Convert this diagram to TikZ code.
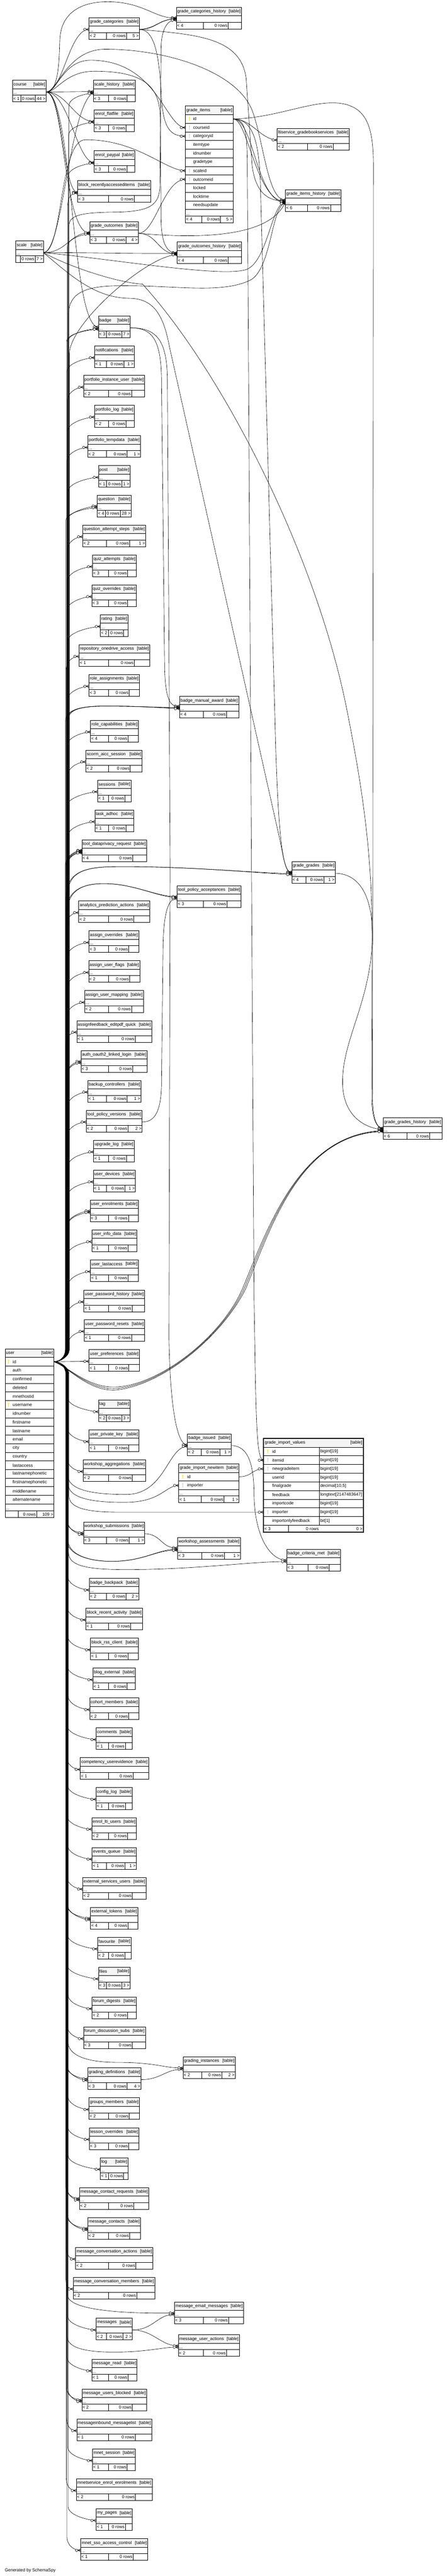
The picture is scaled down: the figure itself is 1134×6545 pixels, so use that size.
\documentclass[tikz,border=0pt]{standalone}
\usepackage{fontspec}
\setmainfont{Liberation Sans}
\usetikzlibrary{calc}

\definecolor{hdrgray}{RGB}{244,244,244}
\definecolor{pkyellow}{RGB}{255,230,0}
\definecolor{fkgray}{RGB}{205,205,205}

\pgfdeclarelayer{links}
\pgfsetlayers{links,main}

\tikzset{
  tabline/.style={line width=0.75pt},
  hdr/.style={fill=hdrgray},
  txt/.style={inner sep=0pt, font=\fontsize{8.25}{10}\selectfont},
  cell/.style={inner sep=0pt, outer sep=0pt},
  fk/.style={line width=0.6pt},
  fkend/.pic={\draw[fk, fill=white] (-10.5,0) circle[radius=3.1];
              \draw[fk] (-7,0) -- (0,-3.6) (-7,0) -- (0,3.6) (-7.4,0) -- (0,0);},
  pkey/.pic={\fill[pkyellow] (0,-3.5) circle[radius=1.8]; \draw[pkyellow, line width=0.9pt] (0,-2) -- (0,5);},
  fkey/.pic={\fill[fkgray] (0,-3.5) circle[radius=1.8]; \draw[fkgray, line width=0.9pt] (0,-2) -- (0,5);},
}

\newcommand{\ctab}[9]{%
  \pgfmathsetmacro{\tw}{(#4-#2)*0.75}%
  \fill[white] (#2,#3) rectangle (#4,#3+55);
  \fill[hdr] (#2,#3) rectangle (#4,#3+21.5);
  \draw[tabline] (#2,#3) rectangle (#4,#3+55)
    (#2,#3+21.5) -- (#4,#3+21.5) (#2,#3+38) -- (#4,#3+38)
    (#6,#3+38) -- (#6,#3+55) (#7,#3+38) -- (#7,#3+55);
  \node[cell, minimum width=\tw pt, minimum height=12pt] (#1) at ({(#2+#4)/2},#3+29.75) {};
  \node[txt, anchor=west] (#1-name) at (#2+2,#3+11) {#5};
  \node[txt, anchor=east] (#1-kind) at (#4-2,#3+11) {[table]};
  \node[txt, anchor=base west] (#1-dots) at (#2+1.5,#3+35.5) {...};
  \node[txt, anchor=west] (#1-par) at (#2+1.5,#3+46.5) {#8};
  \node[txt, anchor=east] (#1-rows) at (#7-1.5,#3+46.5) {0 rows};
  \node[txt, anchor=east] (#1-chl) at (#4-1.5,#3+46.5) {#9};
}

\begin{document}
\begin{tikzpicture}[x=0.75pt, y=-0.75pt]
\useasboundingbox (0,0) rectangle (1134,6545);

\ctab{gch}{448}{18.5}{613}{grade\_categories\_history}{516}{579}{< 4}{}
\ctab{gcat}{226}{45}{354}{grade\_categories}{270}{321}{< 2}{5 >}
\ctab{course}{32}{204}{117}{course}{53}{90}{< 1}{44 >}
\ctab{schist}{237}{204}{344}{scale\_history}{276}{323}{< 3}{}
\ctab{eflat}{239}{279}{341}{enrol\_flatfile}{275}{320}{< 3}{}
\ctab{lti}{704}{326}{887}{ltiservice\_gradebookservices}{781}{846}{< 2}{}
\ctab{epay}{239}{383}{342}{enrol\_paypal}{276}{322}{< 3}{}
\ctab{brai}{197}{459}{383}{block\_recentlyaccesseditems}{275}{341}{< 3}{}
\ctab{gih}{725}{482}{866}{grade\_items\_history}{781}{839}{< 6}{}
\ctab{gout}{228}{563}{351}{grade\_outcomes}{270}{320}{< 3}{4 >}
\ctab{scale}{40}{612}{110}{scale}{51}{89}{}{7 >}
\ctab{goh}{450}{615}{613}{grade\_outcomes\_history}{516}{579}{< 4}{}
\ctab{badge}{250}{803}{330}{badge}{270}{309}{< 3}{7 >}
\ctab{notif}{240}{879}{341}{notifications}{270}{315}{< 1}{1 >}
\ctab{piu}{212}{954}{367}{portfolio\_instance\_user}{275}{334}{< 2}{}
\ctab{plog}{240}{1030}{341}{portfolio\_log}{275}{320}{< 2}{}
\ctab{ptemp}{223}{1107}{357}{portfolio\_tempdata}{270}{323}{< 2}{1 >}
\ctab{post}{250}{1183}{330}{post}{270}{309}{< 1}{1 >}
\ctab{quest}{247}{1258}{333}{question}{268}{305}{< 4}{28 >}
\ctab{qas}{210}{1334}{370}{question\_attempt\_steps}{270}{329}{< 2}{1 >}
\ctab{qatt}{235}{1410}{346}{quiz\_attempts}{276}{324}{< 3}{}
\ctab{qovr}{233}{1486}{346}{quiz\_overrides}{275}{324}{< 3}{}
\ctab{rating}{255}{1562}{325}{rating}{276}{314}{< 2}{}
\ctab{roda}{201}{1638}{380}{repository\_onedrive\_access}{276}{341}{< 1}{}
\ctab{rass}{226}{1714}{354}{role\_assignments}{276}{328}{< 3}{}
\ctab{bma}{456}{1769}{606}{badge\_manual\_award}{516}{575}{< 4}{}
\ctab{rcap}{230}{1830}{351}{role\_capabilities}{276}{325}{< 4}{}
\ctab{scorm}{218}{1906}{361}{scorm\_aicc\_session}{275}{331}{< 2}{}
\ctab{sess}{248}{1982}{333}{sessions}{276}{317}{< 1}{}
\ctab{tadhoc}{241}{2058}{340}{task\_adhoc}{276}{320}{< 1}{}
\ctab{tdpr}{208}{2134}{372}{tool\_dataprivacy\_request}{276}{337}{< 4}{}
\ctab{gg}{741}{2189}{851}{grade\_grades}{777}{822}{< 4}{1 >}
\ctab{tpa}{450}{2250}{612}{tool\_policy\_acceptances}{516}{576}{< 3}{}
\ctab{apa}{200}{2289}{380}{analytics\_prediction\_actions}{275}{340}{< 2}{}
\ctab{aovr}{226}{2365}{352}{assign\_overrides}{275}{327}{< 3}{}
\ctab{auf}{225}{2441}{355}{assign\_user\_flags}{276}{329}{< 2}{}
\ctab{aum}{215}{2517}{364}{assign\_user\_mapping}{275}{334}{< 2}{}
\ctab{aepq}{195}{2593}{385}{assignfeedback\_editpdf\_quick}{275}{343}{< 1}{}
\ctab{aoll}{206}{2669}{374}{auth\_oauth2\_linked\_login}{275}{337}{< 3}{}
\ctab{bctl}{223}{2745}{358}{backup\_controllers}{270}{323}{< 1}{1 >}
\ctab{tpv}{219}{2821}{361}{tool\_policy\_versions}{270}{325}{< 2}{2 >}
\ctab{ggh}{973}{2840}{1122}{grade\_grades\_history}{1033}{1091}{< 6}{}
\ctab{uplog}{238}{2897}{341}{upgrade\_log}{275}{321}{< 1}{}
\ctab{udev}{237}{2973}{344}{user\_devices}{270}{317}{< 1}{1 >}
\ctab{uenr}{229}{3049}{351}{user\_enrolments}{275}{326}{< 3}{}
\ctab{uinfo}{233}{3125}{348}{user\_info\_data}{276}{325}{< 1}{}
\ctab{ulast}{230}{3201}{351}{user\_lastaccess}{276}{325}{< 1}{}
\ctab{uph}{213}{3278}{367}{user\_password\_history}{275}{335}{< 1}{}
\ctab{upr}{214}{3353}{367}{user\_password\_resets}{276}{334}{< 1}{}
\ctab{upref}{226}{3429}{354}{user\_preferences}{276}{327}{< 1}{}
\ctab{tag}{250}{3557}{330}{tag}{270}{309}{< 2}{3 >}
\ctab{upk}{226}{3633}{353}{user\_private\_key}{276}{327}{< 1}{}
\ctab{bi}{476}{3643}{587}{badge\_issued}{511}{558}{< 2}{1 >}
\ctab{waggr}{211}{3709}{370}{workshop\_aggregations}{276}{336}{< 2}{}
\ctab{wsub}{212}{3867}{367}{workshop\_submissions}{270}{328}{< 3}{1 >}
\ctab{wass}{451}{3906}{610}{workshop\_assessments}{512}{570}{< 3}{1 >}
\ctab{bcm}{728}{3936}{864}{badge\_criteria\_met}{782}{836}{< 3}{}
\ctab{bbp}{227}{4010}{352}{badge\_backpack}{270}{320}{< 2}{2 >}
\ctab{bra}{218}{4086}{362}{block\_recent\_activity}{276}{332}{< 1}{}
\ctab{brss}{230}{4162}{351}{block\_rss\_client}{276}{325}{< 1}{}
\ctab{blog}{236}{4238}{344}{blog\_external}{276}{323}{< 1}{}
\ctab{cohm}{228}{4314}{352}{cohort\_members}{276}{327}{< 2}{}
\ctab{comm}{244}{4390}{336}{comments}{276}{318}{< 1}{}
\ctab{cue}{204}{4466}{377}{competency\_userevidence}{276}{338}{< 1}{}
\ctab{clog}{244}{4542}{336}{config\_log}{276}{318}{< 1}{}
\ctab{elti}{233}{4618}{346}{enrol\_lti\_users}{275}{324}{< 2}{}
\ctab{evq}{234}{4694}{346}{events\_queue}{270}{317}{< 1}{1 >}
\ctab{esu}{210}{4770}{371}{external\_services\_users}{276}{336}{< 2}{}
\ctab{etok}{230}{4846}{350}{external\_tokens}{275}{325}{< 4}{}
\ctab{fav}{248}{4922}{333}{favourite}{276}{317}{< 2}{}
\ctab{files}{250}{4998}{330}{files}{270}{309}{< 3}{3 >}
\ctab{fdig}{234}{5074}{346}{forum\_digests}{275}{324}{< 2}{}
\ctab{fds}{212}{5150}{369}{forum\_discussion\_subs}{276}{336}{< 3}{}
\ctab{ginst}{465}{5226}{597}{grading\_instances}{512}{563}{< 2}{2 >}
\ctab{gdef}{223}{5254}{358}{grading\_definitions}{270}{323}{< 3}{4 >}
\ctab{gmem}{226}{5330}{354}{groups\_members}{275}{328}{< 2}{}
\ctab{lovr}{227}{5406}{353}{lesson\_overrides}{275}{327}{< 3}{}
\ctab{log}{255}{5482}{325}{log}{276}{314}{< 1}{}
\ctab{mcr}{202}{5558}{378}{message\_contact\_requests}{276}{340}{< 2}{}
\ctab{mcon}{223}{5634}{357}{message\_contacts}{275}{329}{< 2}{}
\ctab{mca}{192}{5710}{388}{message\_conversation\_actions}{276}{345}{< 2}{}
\ctab{mcm}{186}{5786}{393}{message\_conversation\_members}{275}{347}{< 2}{}
\ctab{mem}{443}{5849}{618}{message\_email\_messages}{516}{580}{< 3}{}
\ctab{msgs}{244}{5890}{336}{messages}{270}{312}{< 2}{2 >}
\ctab{mua}{453}{5932}{608}{message\_user\_actions}{516}{575}{< 2}{}
\ctab{mread}{233}{5994}{348}{message\_read}{276}{325}{< 1}{}
\ctab{mub}{208}{6070}{372}{message\_users\_blocked}{275}{336}{< 2}{}
\ctab{mibl}{195}{6146}{385}{messageinbound\_messagelist}{275}{343}{< 1}{}
\ctab{mnets}{235}{6222}{344}{mnet\_session}{275}{323}{< 1}{}
\ctab{mnee}{194}{6298}{386}{mnetservice\_enrol\_enrolments}{276}{344}{< 2}{}
\ctab{mypg}{244}{6374}{336}{my\_pages}{276}{318}{< 1}{}
\ctab{msso}{205}{6450}{375}{mnet\_sso\_access\_control}{275}{338}{< 1}{}

\fill[white] (471,269) rectangle (592,566);
\fill[hdr] (471,269) rectangle (592,291.4);
\draw[tabline] (471,269) rectangle (592,566) (471,291.4) -- (592,291.4) (471,549) -- (592,549) (512,549) -- (512,566) (560,549) -- (560,566);
\node[txt, anchor=west] (gi-name) at (473,280.2) {grade\_items};
\node[txt, anchor=east] (gi-kind) at (590,280.2) {[table]};
\foreach \n [count=\i from 0] in {id,courseid,categoryid,itemtype,idnumber,gradetype,scaleid,outcomeid,locked,locktime,needsupdate} {
  \node[cell, minimum width=90.75pt, minimum height=16.4pt] (gi-\n) at (531.5,302.35+21.9*\i) {};
  \node[txt, anchor=west] (gi-\n-t) at (490,302.35+21.9*\i) {\n};
  \draw[tabline] (471,313.3+21.9*\i) -- (592,313.3+21.9*\i);
}
\node[txt, anchor=base west] (gi-dots) at (472.5,546) {...};
\node[txt, anchor=west] (gi-par) at (472.5,557.5) {< 4};
\node[txt, anchor=east] (gi-rows) at (558.5,557.5) {0 rows};
\node[txt, anchor=east] (gi-chl) at (590.5,557.5) {5 >};
\pic at (481,302.35) {pkey};
\foreach \i in {1,2,6,7} \pic at (481,302.35+21.9*\i) {fkey};

\fill[white] (13,3427) rectangle (137,3856);
\fill[hdr] (13,3427) rectangle (137,3449);
\draw[tabline] (13,3427) rectangle (137,3856) (13,3449) -- (137,3449) (13,3839) -- (137,3839) (46,3839) -- (46,3856) (93,3839) -- (93,3856);
\node[txt, anchor=west] (usr-name) at (15,3438) {user};
\node[txt, anchor=east] (usr-kind) at (135,3438) {[table]};
\foreach \n [count=\i from 0] in {id,auth,confirmed,deleted,mnethostid,username,idnumber,firstname,lastname,email,city,country,lastaccess,lastnamephonetic,firstnamephonetic,middlename,alternatename} {
  \node[cell, minimum width=93pt, minimum height=16.4pt] (usr-\n) at (75,3459.95+21.9*\i) {};
  \node[txt, anchor=west] (usr-\n-t) at (32,3459.95+21.9*\i) {\n};
  \draw[tabline] (13,3470.9+21.9*\i) -- (137,3470.9+21.9*\i);
}
\node[txt, anchor=base west] (usr-dots) at (14.5,3836.5) {...};
\node[txt, anchor=east] (usr-rows) at (91.5,3847.5) {0 rows};
\node[txt, anchor=east] (usr-chl) at (135.5,3847.5) {109 >};
\pic at (22,3459.95) {pkey};
\pic at (22,3569.45) {pkey};

\fill[white] (669,3655) rectangle (923,3893);
\fill[hdr] (669,3655) rectangle (923,3677);
\draw[tabline] (669,3677) -- (923,3677) (811,3677) -- (811,3875) (669,3875) -- (923,3875) (732,3875) -- (732,3893);
\foreach \i in {0,...,7} \draw[tabline] (669,3699+22*\i) -- (923,3699+22*\i);
\draw[line width=1.6pt] (669,3655) rectangle (923,3893);
\node[txt, anchor=west] (giv-name) at (672,3666) {grade\_import\_values};
\node[txt, anchor=east] (giv-kind) at (920,3666) {[table]};
\foreach \n/\ty [count=\i from 0] in {id/bigint[19], itemid/bigint[19], newgradeitem/bigint[19], userid/bigint[19], finalgrade/{decimal[10,5]}, feedback/{longtext[2147483647]}, importcode/bigint[19], importer/bigint[19], importonlyfeedback/bit[1]} {
  \node[cell, minimum width=190.5pt, minimum height=16.5pt] (giv-\n) at (796,3688+22*\i) {};
  \node[txt, anchor=west] (giv-\n-t) at (691,3688+22*\i) {\n};
  \node[txt, anchor=west] (giv-\n-y) at (813,3688+22*\i) {\ty};
}
\node[txt, anchor=west] (giv-par) at (671,3884) {< 3};
\node[txt, anchor=east] (giv-rows) at (809.5,3884) {0 rows};
\node[txt, anchor=east] (giv-chl) at (920.5,3884) {0 >};
\pic at (680,3688) {pkey};
\foreach \i in {1,2,7} \pic at (680,3688+22*\i) {fkey};

\fill[white] (454,3719) rectangle (607,3818);
\fill[hdr] (454,3719) rectangle (607,3741);
\draw[tabline] (454,3719) rectangle (607,3818) (454,3741) -- (607,3741) (454,3763) -- (607,3763) (454,3785) -- (607,3785) (454,3801) -- (607,3801) (511,3801) -- (511,3818) (569,3801) -- (569,3818);
\node[txt, anchor=west] (gin-name) at (456,3730) {grade\_import\_newitem};
\node[txt, anchor=east] (gin-kind) at (605,3730) {[table]};
\node[cell, minimum width=114.75pt, minimum height=16.5pt] (gin-id) at (530.5,3752) {};
\node[cell, minimum width=114.75pt, minimum height=16.5pt] (gin-importer) at (530.5,3774) {};
\node[txt, anchor=west] (gin-id-t) at (475,3752) {id};
\node[txt, anchor=west] (gin-importer-t) at (475,3774) {importer};
\node[txt, anchor=base west] (gin-dots) at (455.5,3798.5) {...};
\node[txt, anchor=west] (gin-par) at (455.5,3809.5) {< 1};
\node[txt, anchor=east] (gin-rows) at (567.5,3809.5) {0 rows};
\node[txt, anchor=east] (gin-chl) at (605.5,3809.5) {1 >};
\pic at (464,3752) {pkey};
\pic at (464,3774) {fkey};

\node[txt, anchor=west] (gen) at (12,6531) {Generated by SchemaSpy};

\begin{pgfonlayer}{links}
\draw[fk] (course.east) .. controls (160,234) and (175,75) .. (gcat.west);
\pic at (gcat.west) {fkend};
\draw[fk] (course.east) .. controls (150,234) and (150,150) .. (152,100) .. controls (155,30) and (210,0) .. (290,5) .. controls (370,10) and (400,50) .. ([yshift=2.5pt]gch.west);
\pic at ([yshift=2.5pt]gch.west) {fkend};
\draw[fk] (course.east) -- ([yshift=1pt]schist.west);
\pic at ([yshift=1pt]schist.west) {fkend};
\draw[fk] (course.east) .. controls (170,234) and (190,309) .. (eflat.west);
\pic at (eflat.west) {fkend};
\draw[fk] (course.east) .. controls (175,234) and (195,413) .. (epay.west);
\pic at (epay.west) {fkend};
\draw[fk] (course.east) .. controls (160,234) and (160,489) .. (brai.west);
\pic at (brai.west) {fkend};
\draw[fk] (course.east) .. controls (145,234) and (160,153) .. (230,153) .. controls (400,153) and (420,324) .. (gi-courseid.west);
\pic at (gi-courseid.west) {fkend};
\draw[fk] (course.east) .. controls (145,234) and (170,125) .. (268,125) .. controls (420,125) and (600,180) .. (640,280) .. controls (670,360) and (680,512) .. ([yshift=3pt]gih.west);
\pic at ([yshift=3pt]gih.west) {fkend};
\draw[fk] (course.east) .. controls (145,234) and (165,181) .. (240,181) .. controls (380,181) and (405,230) .. (407,300) -- (409,560) .. controls (410,620) and (425,645) .. ([yshift=2pt]goh.west);
\pic at ([yshift=2pt]goh.west) {fkend};
\draw[fk] (course.east) .. controls (165,234) and (160,593) .. (gout.west);
\pic at (gout.west) {fkend};
\draw[fk] (course.east) .. controls (185,234) and (180,833) .. ([yshift=1.5pt]badge.west);
\pic at ([yshift=1.5pt]badge.west) {fkend};

\draw[fk] (gcat.east) .. controls (395,75) and (400,50) .. ([yshift=0.8pt]gch.west);
\draw[fk] (gcat.east) .. controls (400,72) and (405,46) .. ([yshift=-0.8pt]gch.west);
\pic at ([yshift=0.8pt]gch.west) {fkend};
\pic at ([yshift=-0.8pt]gch.west) {fkend};
\draw[fk] (gcat.east) .. controls (395,75) and (405,150) .. (410,250) .. controls (415,330) and (435,346) .. (gi-categoryid.west);
\pic at (gi-categoryid.west) {fkend};
\draw[fk] (gcat.east) .. controls (500,88) and (612,95) .. (625,200) -- (640,420) .. controls (650,500) and (690,512) .. ([yshift=1.5pt]gih.west);
\pic at ([yshift=1.5pt]gih.west) {fkend};

\draw[fk] (scale.east) .. controls (160,642) and (175,270) .. ([yshift=-1pt]schist.west);
\pic at ([yshift=-1pt]schist.west) {fkend};
\draw[fk] (scale.east) .. controls (170,642) and (175,593) .. ([yshift=1.5pt]gout.west);
\pic at ([yshift=1.5pt]gout.west) {fkend};
\draw[fk] (scale.east) .. controls (250,642) and (350,645) .. ([yshift=0.7pt]goh.west);
\pic at ([yshift=0.7pt]goh.west) {fkend};
\draw[fk] (scale.east) .. controls (160,642) and (150,355) .. (217,355) .. controls (350,355) and (420,434) .. (gi-scaleid.west);
\pic at (gi-scaleid.west) {fkend};
\draw[fk] (scale.east) .. controls (300,660) and (560,705) .. (625,685) .. controls (680,665) and (690,512) .. ([yshift=-1.5pt]gih.west);
\pic at ([yshift=-1.5pt]gih.west) {fkend};
\draw[fk] (scale.east) .. controls (180,700) and (240,757) .. (330,758) .. controls (390,759) and (415,800) .. (430,880) -- (712,2140) .. controls (720,2180) and (725,2219) .. ([yshift=2.5pt]gg.west);
\pic at ([yshift=2.5pt]gg.west) {fkend};
\draw[fk] (scale.east) .. controls (180,680) and (300,718) .. (362,722) .. controls (560,940) and (800,1400) .. (880,1800) .. controls (930,2050) and (945,2200) .. (945,2400) -- (944,2780) .. controls (943,2840) and (955,2867) .. ([yshift=3pt]ggh.west);
\pic at ([yshift=3pt]ggh.west) {fkend};

\draw[fk] (gout.east) .. controls (400,593) and (400,645) .. ([yshift=-0.7pt]goh.west);
\pic at ([yshift=-0.7pt]goh.west) {fkend};
\draw[fk] (gout.east) .. controls (395,593) and (415,456) .. (gi-outcomeid.west);
\pic at (gi-outcomeid.west) {fkend};
\draw[fk] (gout.east) .. controls (520,608) and (690,600) .. (gih.west);
\pic at (gih.west) {fkend};

\draw[fk] (gi-id.east) .. controls (640,302) and (660,354) .. (lti.west);
\pic at (lti.west) {fkend};
\foreach \cx/\dy in {630/-0.5, 645/-3}
  \draw[fk] (gi-id.east) .. controls (\cx,302) and (650,512) .. ([yshift=\dy pt]gih.west);
\pic at ([yshift=-0.5pt]gih.west) {fkend};
\pic at ([yshift=-3pt]gih.west) {fkend};
\draw[fk] (gi-id.east) .. controls (700,300) and (790,255) .. (860,262) .. controls (930,270) and (948,320) .. (948,420) -- (946,2780) .. controls (945,2845) and (958,2867) .. ([yshift=1.5pt]ggh.west);
\pic at ([yshift=1.5pt]ggh.west) {fkend};
\draw[fk] (gi-id.east) .. controls (650,302) and (660,380) .. (662,500) -- (700,1900) .. controls (708,2150) and (720,2219) .. ([yshift=1pt]gg.west);
\pic at ([yshift=1pt]gg.west) {fkend};
\draw[fk] (gi-id.east) .. controls (625,302) and (628,340) .. (628,440) -- (645,3300) .. controls (650,3600) and (650,3710) .. (giv-itemid.west);
\pic at (giv-itemid.west) {fkend};

\draw[fk] (badge.east) .. controls (385,833) and (408,860) .. (410,960) -- (418,1700) .. controls (420,1770) and (430,1799) .. ([yshift=3.5pt]bma.west);
\pic at ([yshift=3.5pt]bma.west) {fkend};
\draw[fk] (badge.east) .. controls (395,833) and (423,860) .. (425,960) -- (432,2200) -- (429,3400) .. controls (432,3580) and (450,3673) .. ([yshift=1.5pt]bi.west);
\pic at ([yshift=1.5pt]bi.west) {fkend};

\draw[fk] (gg.east) .. controls (920,2220) and (950,2290) .. (945,2400) .. controls (935,2560) and (865,2650) .. (870,2760) .. controls (875,2840) and (930,2867) .. ([yshift=-0.5pt]ggh.west);
\pic at ([yshift=-0.5pt]ggh.west) {fkend};
\draw[fk] (tpv.east) .. controls (395,2851) and (408,2820) .. (410,2760) -- (414,2400) .. controls (416,2310) and (430,2280) .. ([yshift=-3pt]tpa.west);
\pic at ([yshift=-3pt]tpa.west) {fkend};
\draw[fk] (bi.east) .. controls (630,3673) and (645,3720) .. (645,3800) .. controls (647,3910) and (690,3966) .. ([yshift=1.5pt]bcm.west);
\pic at ([yshift=1.5pt]bcm.west) {fkend};
\draw[fk] (gin-id.east) .. controls (640,3752) and (640,3732) .. (giv-newgradeitem.west);
\pic at (giv-newgradeitem.west) {fkend};
\draw[fk] (wsub.east) .. controls (410,3897) and (410,3936) .. ([yshift=2.5pt]wass.west);
\pic at ([yshift=2.5pt]wass.west) {fkend};
\draw[fk] (gdef.east) .. controls (410,5284) and (420,5256) .. ([yshift=-1.5pt]ginst.west);
\pic at ([yshift=-1.5pt]ginst.west) {fkend};
\draw[fk] (msgs.east) .. controls (390,5920) and (400,5879) .. ([yshift=-1.5pt]mem.west);
\pic at ([yshift=-1.5pt]mem.west) {fkend};
\draw[fk] (msgs.east) .. controls (390,5920) and (410,5962) .. ([yshift=1.5pt]mua.west);
\pic at ([yshift=1.5pt]mua.west) {fkend};

\foreach \cn/\ty/\tx/\dy in {schist/204/175/-2.5, eflat/279/174/-1.5, epay/383/173/-1.5, brai/459/172/-1.5, gout/563/171/-1.5, badge/803/172/-1.5, badge/803/169/-3, notif/879/170/0, piu/954/171/0, plog/1030/172/0, ptemp/1107/170/0, post/1183/173/0, quest/1258/170/1.5, quest/1258/167/-1.5, qas/1334/171/0, qatt/1410/172/0, qovr/1486/170/0, rating/1562/173/0, roda/1638/168/0, rass/1714/171/0, rcap/1830/170/0, scorm/1906/172/0, sess/1982/171/0, tadhoc/2058/173/0, tdpr/2134/166/2.5, tdpr/2134/168/1, tdpr/2134/170/-1, tdpr/2134/172/-2.5, apa/2289/168/0, aovr/2365/171/0, auf/2441/172/0, aum/2517/170/0, aepq/2593/167/0, aoll/2669/168/1.5, aoll/2669/170/-1.5, bctl/2745/172/0, tpv/2821/171/0, uplog/2897/173/0, udev/2973/172/0, uenr/3049/170/1.5, uenr/3049/172/-1.5, uinfo/3125/171/0, ulast/3201/173/0, uph/3278/170/0, upr/3353/172/0}
{
  \draw[fk] (usr-id.east) .. controls +(16,0) and +(0,16) .. (\tx,3430) -- (\tx,\ty+65) .. controls +(0,-22) and +(-18,0) .. ([yshift=\dy pt]\cn.west);
  \pic at ([yshift=\dy pt]\cn.west) {fkend};
}
\draw[fk] (usr-id.east) -- (upref.west);
\pic at (upref.west) {fkend};
\foreach \cn/\ty/\tx/\dy in {tag/3557/172/0, upk/3633/171/0, waggr/3709/170/0, wsub/3867/168/1.5, wsub/3867/171/-1.5, bbp/4010/172/0, bra/4086/170/0, brss/4162/172/0, blog/4238/171/0, cohm/4314/173/0, comm/4390/171/0, cue/4466/169/0, clog/4542/172/0, elti/4618/170/0, evq/4694/172/0, esu/4770/169/0, etok/4846/170/1.5, etok/4846/172/-1.5, fav/4922/172/0, files/4998/171/0, fdig/5074/173/0, fds/5150/170/0, gdef/5254/169/1.5, gdef/5254/171/-1.5, gmem/5330/172/0, lovr/5406/171/0, log/5482/173/0, mcr/5558/167/1.5, mcr/5558/169/-1.5, mcon/5634/170/1.5, mcon/5634/172/-1.5, mca/5710/168/0, mcm/5786/167/0, msgs/5890/172/0, mread/5994/170/0, mub/6070/168/1.5, mub/6070/171/-1.5, mibl/6146/169/0, mnets/6222/172/0, mnee/6298/168/0, mypg/6374/173/0, msso/6450/170/0}
{
  \draw[fk] (usr-id.east) .. controls +(16,0) and +(0,-16) .. (\tx,3490) -- (\tx,\ty-5) .. controls +(0,22) and +(-18,0) .. ([yshift=\dy pt]\cn.west);
  \pic at ([yshift=\dy pt]\cn.west) {fkend};
}

\draw[fk] (usr-id.east) .. controls +(16,0) and +(0,16) .. (175,3430) -- (175,575) .. controls (175,548) and (200,540) .. (290,539) .. controls (385,538) and (405,520) .. (406,470) -- (409,120) .. controls (410,75) and (425,48) .. ([yshift=-2.5pt]gch.west);
\pic at ([yshift=-2.5pt]gch.west) {fkend};
\draw[fk] (usr-id.east) .. controls +(16,0) and +(0,16) .. (174,3430) -- (174,800) .. controls (174,745) and (215,727) .. (300,726) .. controls (440,724) and (560,748) .. (635,712) .. controls (690,685) and (690,515) .. ([yshift=-4pt]gih.west);
\pic at ([yshift=-4pt]gih.west) {fkend};
\draw[fk] (usr-id.east) .. controls +(16,0) and +(0,16) .. (176,3430) -- (176,900) .. controls (176,820) and (380,645) .. ([yshift=-2pt]goh.west);
\pic at ([yshift=-2pt]goh.west) {fkend};
\foreach \tx/\dy in {166/1.5,169/0,172/-1.5} {
  \draw[fk] (usr-id.east) .. controls +(16,0) and +(0,16) .. (\tx,3430) -- (\tx,1835) .. controls (\tx,1805) and (195,1794) .. (270,1794) .. controls (360,1794) and (420,1799) .. ([yshift=\dy pt]bma.west);
  \pic at ([yshift=\dy pt]bma.west) {fkend};
}
\foreach \tx/\dy in {167/-0.5,170/-2.5} {
  \draw[fk] (usr-id.east) .. controls +(16,0) and +(0,16) .. (\tx,3430) -- (\tx,2290) .. controls (\tx,2225) and (195,2203) .. (290,2202) .. controls (470,2200) and (660,2219) .. ([yshift=\dy pt]gg.west);
  \pic at ([yshift=\dy pt]gg.west) {fkend};
}
\foreach \tx/\dy in {168/1.5,171/-0.5} {
  \draw[fk] (usr-id.east) .. controls +(16,0) and +(0,16) .. (\tx,3430) -- (\tx,2320) .. controls (\tx,2265) and (205,2246) .. (260,2245) .. controls (340,2244) and (400,2280) .. ([yshift=\dy pt]tpa.west);
  \pic at ([yshift=\dy pt]tpa.west) {fkend};
}
\foreach \o/\dy in {0/-2, 4/-3, 8/-4} {
  \draw[fk] (usr-id.east) .. controls (170,3470) and (220,3525+\o) .. (290,3524+\o) .. controls (400+\o,3523) and (560,3400) .. (615+\o,3276) .. controls (680+\o,3120) and (760,2880) .. ([yshift=\dy pt]ggh.west);
  \pic at ([yshift=\dy pt]ggh.west) {fkend};
}
\draw[fk] (usr-id.east) .. controls +(16,0) and +(0,-16) .. (171,3490) -- (171,3745) .. controls (171,3785) and (230,3797) .. (320,3797) .. controls (420,3797) and (425,3676) .. ([yshift=-1.5pt]bi.west);
\pic at ([yshift=-1.5pt]bi.west) {fkend};
\draw[fk] (usr-id.east) .. controls +(16,0) and +(0,-16) .. (173,3490) -- (173,3770) .. controls (173,3805) and (230,3818) .. (320,3817) .. controls (410,3816) and (420,3774) .. (gin-importer.west);
\pic at (gin-importer.west) {fkend};
\draw[fk] (usr-id.east) .. controls +(16,0) and +(0,-16) .. (175,3490) -- (175,3800) .. controls (175,3830) and (215,3842) .. (300,3842) -- (giv-importer.west);
\pic at (giv-importer.west) {fkend};
\foreach \tx/\dy in {169/0,172/-2.5} {
  \draw[fk] (usr-id.east) .. controls +(16,0) and +(0,-16) .. (\tx,3490) -- (\tx,3910) .. controls (\tx,3950) and (225,3968) .. (290,3967) .. controls (370,3965) and (400,3936) .. ([yshift=\dy pt]wass.west);
  \pic at ([yshift=\dy pt]wass.west) {fkend};
}
\draw[fk] (usr-id.east) .. controls +(16,0) and +(0,-16) .. (174,3490) -- (174,3945) .. controls (174,3978) and (220,3988) .. (320,3988) .. controls (500,3988) and (650,3966) .. ([yshift=-1.5pt]bcm.west);
\pic at ([yshift=-1.5pt]bcm.west) {fkend};
\draw[fk] (usr-id.east) .. controls +(16,0) and +(0,-16) .. (172,3490) -- (172,5185) .. controls (172,5225) and (225,5240) .. (300,5240) .. controls (400,5240) and (420,5256) .. ([yshift=1.5pt]ginst.west);
\pic at ([yshift=1.5pt]ginst.west) {fkend};
\draw[fk] (usr-id.east) .. controls +(16,0) and +(0,-16) .. (171,3490) -- (171,5830) .. controls (171,5868) and (300,5879) .. ([yshift=1.5pt]mem.west);
\pic at ([yshift=1.5pt]mem.west) {fkend};
\draw[fk] (usr-id.east) .. controls +(16,0) and +(0,-16) .. (170,3490) -- (170,5935) .. controls (170,5968) and (225,5977) .. (300,5976) .. controls (380,5975) and (420,5962) .. ([yshift=-1.5pt]mua.west);
\pic at ([yshift=-1.5pt]mua.west) {fkend};
\end{pgfonlayer}
\end{tikzpicture}
\end{document}
